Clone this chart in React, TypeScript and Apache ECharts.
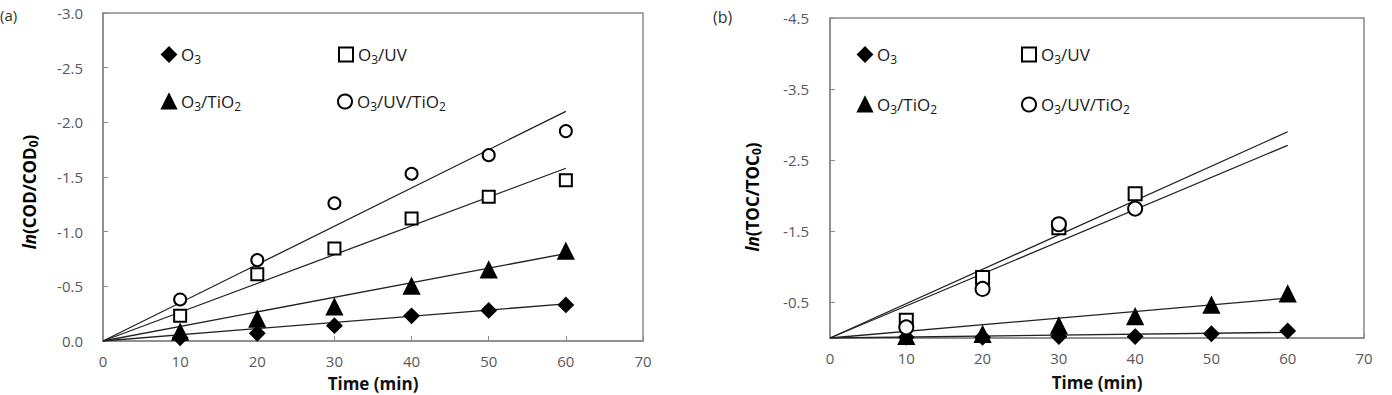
import React, { useEffect, useRef } from 'react';
import * as echarts from 'echarts';

// ---------- data ----------
const TIME = [10, 20, 30, 40, 50, 60];
const NAMES = ['O3', 'O3/UV', 'O3/TiO2', 'O3/UV/TiO2'];

// panel (a): ln(COD/COD0)
const COD_O3 = [-0.03, -0.07, -0.14, -0.23, -0.28, -0.33];
const COD_O3_UV = [-0.23, -0.61, -0.845, -1.12, -1.32, -1.47];
const COD_O3_TIO2 = [-0.08, -0.2, -0.31, -0.5, -0.65, -0.82];
const COD_O3_UV_TIO2 = [-0.38, -0.74, -1.26, -1.53, -1.7, -1.92];
// linear fits through origin: value at t = 60 min
const COD_FIT_60 = [-0.34, -1.58, -0.8, -2.1];

// panel (b): ln(TOC/TOC0)
const TOC_TIME_UV = [10, 20, 30, 40];
const TOC_O3 = [-0.01, -0.01, -0.02, -0.02, -0.06, -0.1];
const TOC_O3_UV = [-0.25, -0.85, -1.55, -2.03];
const TOC_O3_TIO2 = [-0.02, -0.05, -0.17, -0.3, -0.46, -0.62];
const TOC_O3_UV_TIO2 = [-0.15, -0.69, -1.6, -1.82];
const TOC_FIT_60 = [-0.08, -2.9, -0.56, -2.71];

const COD_TICKS = [-3.0, -2.5, -2.0, -1.5, -1.0, -0.5, 0.0];
const TOC_TICKS = [-4.5, -3.5, -2.5, -1.5, -0.5];

// ---------- styles ----------
const FONT = 'Open Sans';
const AXIS_GREY = '#8a8a8a';
const LABEL_GREY = '#595959';

const SYMBOLS: Record<string, { symbol: string; size: number }> = {
  'O3': { symbol: 'diamond', size: 14 },
  'O3/UV': { symbol: 'emptyRect', size: 12 },
  'O3/TiO2': { symbol: 'triangle', size: 15 },
  'O3/UV/TiO2': { symbol: 'emptyCircle', size: 12 },
};

const richName = (name: string) =>
  name
    .split(/(\d)/)
    .filter((t) => t !== '')
    .map((t) => (/^\d$/.test(t) ? `{s|${t}}` : `{n|${t}}`))
    .join('');

const legendRich = {
  n: { fontFamily: FONT, fontSize: 17, color: '#1a1a1a' },
  s: { fontFamily: FONT, fontSize: 12, color: '#1a1a1a', padding: [9, 0, 0, 0] },
};

const titleRich = {
  i: { fontFamily: FONT, fontSize: 17, fontWeight: 'bold', fontStyle: 'italic', color: '#111' },
  b: { fontFamily: FONT, fontSize: 17, fontWeight: 'bold', color: '#111' },
  s: { fontFamily: FONT, fontSize: 12, fontWeight: 'bold', color: '#111', padding: [9, 0, 0, 0] },
};

function scatter(name: string, xs: number[], ys: number[], gi: number, size?: number) {
  const s = SYMBOLS[name];
  return {
    type: 'scatter',
    name,
    xAxisIndex: gi,
    yAxisIndex: gi,
    symbol: s.symbol,
    symbolSize: size ?? s.size,
    itemStyle: { color: '#000', borderColor: '#000', borderWidth: 2, opacity: 1 },
    z: 5,
    data: ys.map((v, i) => [xs[i], v]),
  };
}

function fit(end: number, gi: number) {
  return {
    type: 'line',
    xAxisIndex: gi,
    yAxisIndex: gi,
    symbol: 'none',
    silent: true,
    lineStyle: { color: '#222', width: 1.3 },
    z: 2,
    data: [
      [0, 0],
      [60, end],
    ],
  };
}

function xAxis(gi: number, nameGap: number) {
  return {
    type: 'value',
    gridIndex: gi,
    min: 0,
    max: 70,
    interval: 10,
    name: 'Time (min)',
    nameLocation: 'middle',
    nameGap,
    nameMoveOverlap: false,
    nameTextStyle: { fontFamily: FONT, fontSize: 17, fontWeight: 'bold', color: '#111' },
    axisLine: { lineStyle: { color: AXIS_GREY, width: 1.5 } },
    axisTick: { inside: true, length: 5, lineStyle: { color: AXIS_GREY } },
    axisLabel: { margin: 12, fontFamily: FONT, fontSize: 15, color: LABEL_GREY },
    splitLine: { show: false },
  };
}

function legend(name: string, left: number, top: number) {
  return {
    data: [name],
    left,
    top,
    padding: 0,
    itemWidth: 14,
    itemHeight: 14,
    selectedMode: false,
    formatter: (n: string) => richName(n),
    textStyle: { rich: legendRich },
  };
}

const option = {
  animation: false,
  backgroundColor: '#fff',
  grid: [
    {
      left: 103,
      top: 13,
      width: 540,
      height: 328,
      show: true,
      borderColor: AXIS_GREY,
      borderWidth: 1.5,
      containLabel: false,
      outerBoundsMode: 'none',
    },
    {
      left: 830,
      top: 18,
      width: 534,
      height: 320,
      show: true,
      borderColor: AXIS_GREY,
      borderWidth: 1.5,
      containLabel: false,
      outerBoundsMode: 'none',
    },
  ],
  xAxis: [xAxis(0, 34), xAxis(1, 36)],
  yAxis: [
    {
      type: 'value',
      gridIndex: 0,
      min: -3,
      max: 0,
      interval: 0.5,
      inverse: true,
      axisLine: { lineStyle: { color: AXIS_GREY, width: 1.5 } },
      axisTick: { inside: true, length: 5, lineStyle: { color: AXIS_GREY }, customValues: COD_TICKS },
      axisLabel: {
        margin: 20,
        fontFamily: FONT,
        fontSize: 15,
        color: LABEL_GREY,
        customValues: COD_TICKS,
        formatter: (v: number) => (Math.abs(v) < 1e-9 ? '0.0' : v.toFixed(1)),
      },
      splitLine: { show: false },
    },
    {
      type: 'value',
      gridIndex: 1,
      min: -4.5,
      max: 0,
      inverse: true,
      axisLine: { lineStyle: { color: AXIS_GREY, width: 1.5 } },
      axisTick: { inside: true, length: 5, lineStyle: { color: AXIS_GREY }, customValues: TOC_TICKS },
      axisLabel: {
        margin: 21,
        fontFamily: FONT,
        fontSize: 15,
        color: LABEL_GREY,
        customValues: TOC_TICKS,
        formatter: (v: number) => v.toFixed(1),
      },
      splitLine: { show: false },
    },
  ],
  legend: [
    legend('O3', 161, 46),
    legend('O3/TiO2', 161, 93),
    legend('O3/UV', 338, 46),
    legend('O3/UV/TiO2', 337, 93),
    legend('O3', 857, 46),
    legend('O3/TiO2', 857, 96),
    legend('O3/UV', 1021, 46),
    legend('O3/UV/TiO2', 1021, 96),
  ],
  graphic: [
    {
      type: 'text',
      x: 0,
      y: 15,
      style: { text: '(a)', fontFamily: FONT, fontSize: 15, fill: '#333', verticalAlign: 'middle', textVerticalAlign: 'middle' },
    },
    {
      type: 'text',
      x: 713,
      y: 17,
      style: { text: '(b)', fontFamily: FONT, fontSize: 16, fill: '#333', verticalAlign: 'middle', textVerticalAlign: 'middle' },
    },
    {
      type: 'text',
      x: 29,
      y: 192,
      rotation: Math.PI / 2,
      style: {
        text: '{i|ln}{b|(COD/COD}{s|0}{b|)}',
        rich: titleRich,
        align: 'center',
        verticalAlign: 'middle',
        textAlign: 'center',
        textVerticalAlign: 'middle',
      },
    },
    {
      type: 'text',
      x: 752,
      y: 197,
      rotation: Math.PI / 2,
      style: {
        text: '{i|ln}{b|(TOC/TOC}{s|0}{b|)}',
        rich: titleRich,
        align: 'center',
        verticalAlign: 'middle',
        textAlign: 'center',
        textVerticalAlign: 'middle',
      },
    },
  ],
  series: [
    fit(COD_FIT_60[0], 0),
    fit(COD_FIT_60[1], 0),
    fit(COD_FIT_60[2], 0),
    fit(COD_FIT_60[3], 0),
    scatter(NAMES[0], TIME, COD_O3, 0),
    scatter(NAMES[1], TIME, COD_O3_UV, 0),
    scatter(NAMES[2], TIME, COD_O3_TIO2, 0),
    scatter(NAMES[3], TIME, COD_O3_UV_TIO2, 0),
    fit(TOC_FIT_60[0], 1),
    fit(TOC_FIT_60[1], 1),
    fit(TOC_FIT_60[2], 1),
    fit(TOC_FIT_60[3], 1),
    scatter(NAMES[0], TIME, TOC_O3, 1),
    scatter(NAMES[1], TOC_TIME_UV, TOC_O3_UV, 1, 13),
    scatter(NAMES[2], TIME, TOC_O3_TIO2, 1),
    scatter(NAMES[3], TOC_TIME_UV, TOC_O3_UV_TIO2, 1, 14),
  ],
};

export default function App() {
  const ref = useRef<HTMLDivElement>(null);
  useEffect(() => {
    if (!ref.current) return;
    const chart = echarts.init(ref.current, null, { renderer: 'svg' });
    chart.setOption(option as any);
    return () => chart.dispose();
  }, []);
  return (
    <div
      ref={ref}
      style={{ position: 'fixed', left: 0, top: 0, width: 1392, height: 395, background: '#fff' }}
    />
  );
}
